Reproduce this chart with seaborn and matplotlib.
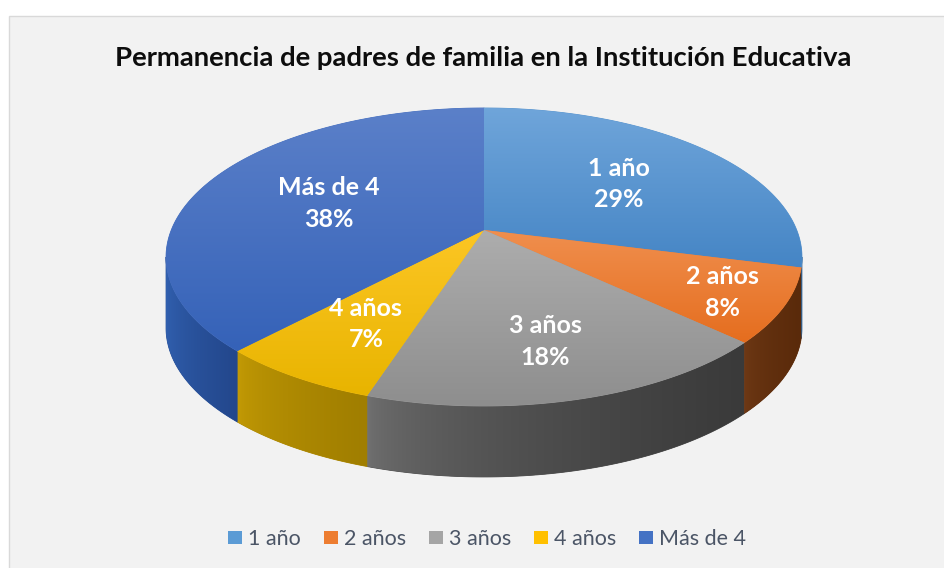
import numpy as np
import matplotlib
matplotlib.use("Agg")
import matplotlib.pyplot as plt
import seaborn as sns
from matplotlib.patches import Polygon, Rectangle, Patch
from matplotlib.colors import to_rgb

# ---------------- data ----------------
title = "Permanencia de padres de familia en la Institución Educativa"
categories = ["1 año", "2 años", "3 años", "4 años", "Más de 4"]
percentages = [29, 8, 18, 7, 38]

# ---------------- styles ----------------
base_colors = ["#5B9BD5", "#ED7D31", "#A5A5A5", "#FFC000", "#4472C4"]
top_light = ["#6fa5da", "#f08f4e", "#adadad", "#fcc624", "#5b80c9"]
top_dark = ["#4585c5", "#e56d1e", "#8e8e8e", "#e8b400", "#3562b8"]
side_light = ["#3a6fa3", "#703a16", "#727272", "#c59c05", "#3262b2"]
side_dark = ["#2f5f8f", "#5a2a0a", "#3a3a3a", "#a07e00", "#23478c"]
label_radius = [0.58, 0.81, 0.69, 0.665, 0.555]

sns.set_theme(style="white")
palette = sns.color_palette(base_colors)
plt.rcParams['font.family'] = ['Lato', 'DejaVu Sans']

W, H = 945, 568
fig = plt.figure(figsize=(W / 100, H / 100), dpi=100, facecolor="white")
ax = fig.add_axes([0, 0, 1, 1])
ax.set_xlim(0, W)
ax.set_ylim(H, 0)
ax.axis('off')

# chart area
ax.add_patch(Rectangle((8.5, 15.5), W, H, facecolor="#f2f2f2",
                       edgecolor="#d9d9d9", lw=1, zorder=0))

# ---------------- perspective geometry ----------------
cx, cy = 484.0, 230.0
sx, sy, k = 312.7, 144.1, 0.181
depth = 71.0


def proj(theta, r=1.0):
    u = r * np.sin(theta)
    v = r * np.cos(theta)
    w = 1 + k * v
    return cx + sx * u / w, cy - sy * v / w


def grad_fill(verts, c0, c1, direction, z, gamma=1.0):
    verts = np.asarray(verts)
    n = 256
    f = np.linspace(0, 1, n) ** gamma
    a, b = np.array(to_rgb(c0)), np.array(to_rgb(c1))
    cols = (1 - f)[:, None] * a + f[:, None] * b
    mid = tuple(cols[n // 2])
    poly = Polygon(verts, closed=True, facecolor=mid, edgecolor=mid,
                   lw=0.6, zorder=z)
    ax.add_patch(poly)
    x0, x1 = verts[:, 0].min(), verts[:, 0].max()
    y0, y1 = verts[:, 1].min(), verts[:, 1].max()
    img = cols[:, None, :] if direction == 'v' else cols[None, :, :]
    im = ax.imshow(img, extent=(x0, x1, y1, y0), origin='upper',
                   aspect='auto', zorder=z + 0.1, interpolation='bilinear')
    im.set_clip_path(poly)


fracs = np.array(percentages, dtype=float) / np.sum(percentages)
edges = np.concatenate([[0], np.cumsum(fracs)]) * 2 * np.pi
vis0 = np.arccos(-k)
vis1 = 2 * np.pi - vis0

# side faces
for i in range(len(categories)):
    a, b = max(edges[i], vis0), min(edges[i + 1], vis1)
    if b <= a:
        continue
    th = np.linspace(a, b, 120)
    tx, ty = proj(th)
    top = np.column_stack([tx, ty])
    bot = np.column_stack([tx, ty + depth])[::-1]
    verts = np.vstack([top, bot])
    grad_fill(verts, side_light[i], side_dark[i], 'h', 2, gamma=0.55)

# top faces
for i in range(len(categories)):
    th = np.linspace(edges[i], edges[i + 1], 200)
    tx, ty = proj(th)
    verts = np.vstack([[cx, cy], np.column_stack([tx, ty])])
    grad_fill(verts, top_light[i], top_dark[i], 'v', 4)

# ---------------- text ----------------
renderer = fig.canvas.get_renderer()


def fit_size(text, weight, target):
    t = fig.text(0, 0, text, fontsize=10, fontweight=weight)
    w = t.get_window_extent(renderer).width
    t.remove()
    return 10 * target / w


title_fs = fit_size(title, 'bold', 739)
ax.text(483, 66, title, fontsize=title_fs, fontweight='bold', color="#0d0d0d",
        ha='center', va='baseline', zorder=10)

label_fs = fit_size("Más de 4", 'bold', 102)
for i, (cat, p) in enumerate(zip(categories, percentages)):
    mid = (edges[i] + edges[i + 1]) / 2
    lx, ly = proj(mid, label_radius[i])
    ax.text(lx, ly + 2, f"{cat}\n{p}%", fontsize=label_fs, fontweight='bold',
            color="white", ha='center', va='center', linespacing=1.45,
            zorder=10)

legend_fs = fit_size("Más de 4", 'normal', 87)
handles = [Patch(facecolor=palette[i], edgecolor='none', label=c)
           for i, c in enumerate(categories)]
em = legend_fs * 100 / 72
leg = ax.legend(handles=handles, ncol=len(categories), loc='center',
                bbox_to_anchor=(487 / W, 1 - 539 / H), frameon=False,
                fontsize=legend_fs, handlelength=14 / em, handleheight=13 / em,
                handletextpad=6 / em, columnspacing=23 / em,
                borderaxespad=0, borderpad=0)
for txt in leg.get_texts():
    txt.set_color("#4b5566")

ax.set_xlim(0, W)
ax.set_ylim(H, 0)
fig.savefig("out.png", dpi=100, facecolor="white")
